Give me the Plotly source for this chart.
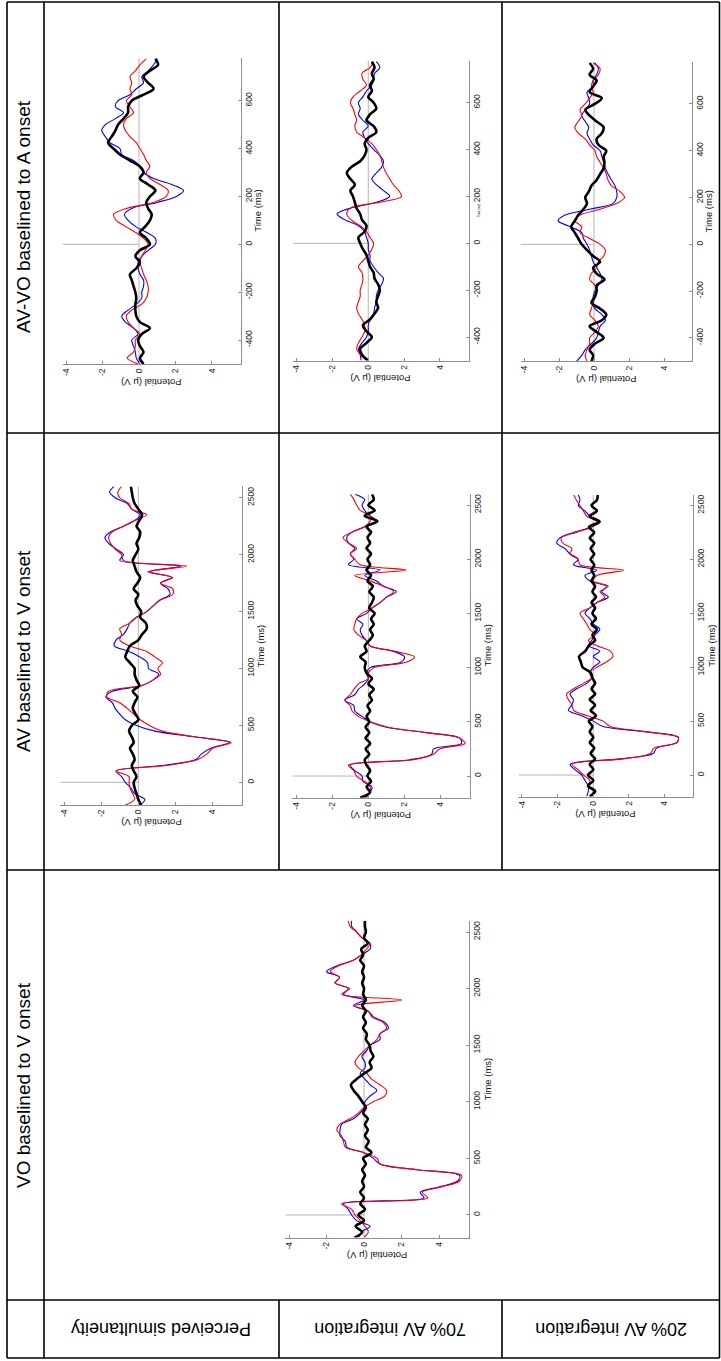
import plotly.graph_objects as go

W, H = 721, 1361
FONT = "Liberation Sans, Arial, Helvetica, sans-serif"

# ---------------- time grids (ms) ----------------
T_LONG = [-200, -150, -100, -50, 0, 50, 100, 150, 200, 250,
          300, 350, 400, 450, 500, 550, 600, 650, 700, 750,
          800, 850, 900, 950, 1000, 1050, 1100, 1150, 1200, 1250,
          1300, 1350, 1400, 1450, 1500, 1550, 1600, 1650, 1700, 1750,
          1800, 1850, 1900, 1950, 2000, 2050, 2100, 2150, 2200, 2250,
          2300, 2350, 2400, 2450, 2500, 2550, 2600]
T_SHORT = [-500, -475, -450, -425, -400, -375, -350, -325, -300, -275,
           -250, -225, -200, -175, -150, -125, -100, -75, -50, -25,
           0, 25, 50, 75, 100, 125, 150, 175, 200, 225,
           250, 275, 300, 325, 350, 375, 400, 425, 450, 475,
           500, 525, 550, 575, 600, 625, 650, 675, 700, 725,
           750, 775]

TICKS_LONG = [0, 500, 1000, 1500, 2000, 2500]
TICKS_SHORT = [-400, -200, 0, 200, 400, 600]
POT_TICKS = [-4, -2, 0, 2, 4]
POT_LABELS = ["-4", "-2", "0", "2", "4"]

# ---------------- AV-VO baselined to A onset ----------------
AVVO_P_RED = [-0.05, -0.65, -0.3, -0.2, -0.2, 0.05, -0.3, -0.6, -0.7, -0.4,
              0.15, 0.4, 0.5, 0.5, 0.4, 0.25, 0.15, 0.05, 0.15, 0.35,
              0.5, 0.25, -0.2, -0.75, -1.25, -1.4, -0.7, 0.8, 1.5, 1.6,
              1.15, 0.6, 0.4, 0.6, 0.4, 0.25, 0.05, -0.15, -0.5, -0.75,
              -0.85, -0.7, -0.3, -0.5, -0.7, -0.4, -0.5, -0.4, -0.5, -0.2,
              0.05, 0.4]
AVVO_P_BLUE = [0.05, -0.15, -0.2, -0.3, -0.4, -0.05, -0.3, -0.75, -0.95, -0.6,
               -0.15, 0.15, 0.15, 0.25, 0.25, 0.05, -0.05, -0.05, 0.15, 0.5,
               0.9, 0.9, 0.4, -0.2, -0.6, -0.8, -0.4, 1.0, 2.05, 2.45,
               1.8, 0.8, 0.25, 0.05, -0.3, -0.95, -1.05, -1.6, -1.85, -2.05,
               -1.85, -1.3, -0.85, -1.3, -1.15, -0.5, -0.15, 0.25, 0.15, 0.5,
               0.8, 1.0]
AVVO_P_BLACK = [0.25, 0.05, 0.25, 0.05, -0.05, 0.15, 0.6, 0.05, -0.15, -0.2,
                -0.2, -0.15, -0.2, -0.3, -0.4, -0.5, -0.15, 0.05, -0.2, 0.05,
                0.6, 0.4, 0.05, 0.35, 0.6, 0.7, 0.5, 0.4, 0.6, 0.9,
                0.5, 0.05, 0.25, 0.05, -0.5, -1.05, -1.4, -1.7, -1.5, -1.3,
                -1.15, -0.85, -0.6, -0.6, -0.4, 0.25, 0.8, 0.5, 0.25, 0.6,
                1.05, 0.9]

AVVO_70_RED = [-0.1, -0.45, -0.65, -0.55, -0.35, -0.2, -0.2, -0.35, -0.55, -0.65,
               -0.55, -0.45, -0.45, -0.35, -0.3, -0.35, -0.55, -0.3, 0.0, 0.2,
               0.3, 0.1, -0.1, -0.45, -0.95, -1.2, -1.0, 0.65, 1.85, 1.7,
               1.4, 1.2, 1.0, 0.85, 0.75, 0.65, 0.45, 0.2, -0.2, -0.65,
               -0.75, -0.65, -0.75, -0.85, -1.0, -0.85, -0.45, -0.1, -0.3, -0.35,
               0.1, 0.3]
AVVO_70_BLUE = [-0.4, -0.45, -0.55, -0.35, -0.1, 0.0, 0.0, 0.1, 0.3, 0.35,
                0.45, 0.45, 0.55, 0.75, 0.85, 0.55, 0.3, 0.1, 0.1, 0.0,
                0.0, -0.1, -0.2, -0.55, -1.3, -1.75, -1.0, 0.45, 1.2, 0.85,
                0.45, 0.2, 0.45, 0.75, 0.85, 0.65, 0.3, 0.0, -0.2, -0.3,
                0.0, -0.3, -0.55, -0.45, -0.55, -0.3, -0.1, 0.2, 0.3, 0.35,
                0.65, 0.45]
AVVO_70_BLACK = [0.0, -0.35, -0.45, -0.1, 0.2, -0.1, -0.3, 0.1, 0.35, 0.55,
                 0.45, 0.55, 0.65, 0.55, 0.35, 0.3, 0.1, 0.0, -0.1, -0.3,
                 -0.45, -0.55, -0.2, -0.1, -0.35, -0.45, -0.65, -0.75, -0.85, -1.0,
                 -0.75, -1.0, -1.2, -0.95, -0.45, -0.2, -0.1, -0.2, 0.0, 0.45,
                 0.3, -0.1, 0.1, 0.45, 0.3, 0.0, 0.2, 0.1, 0.3, 0.2,
                 0.35, 0.2]

AVVO_20_RED = [-0.4, -0.5, -0.4, -0.25, -0.25, 0.05, 0.25, 0.05, -0.25, -0.15,
               -0.05, 0.05, 0.15, 0.05, -0.25, -0.15, 0.15, 0.25, 0.55, 0.65,
               0.35, -0.25, -0.8, -0.7, -1.1, -0.8, 0.35, 1.3, 1.75, 1.5,
               1.0, 0.8, 0.7, 0.55, 0.35, 0.15, 0.05, -0.25, -0.5, -0.9,
               -1.1, -0.9, -0.7, -0.8, -0.5, -0.25, -0.05, -0.15, -0.05, 0.25,
               0.35, -0.05]
AVVO_20_BLUE = [-1.0, -0.7, -0.5, -0.15, 0.15, 0.25, 0.35, 0.65, 0.45, 0.05,
                -0.05, -0.05, 0.05, 0.25, 0.45, 0.35, 0.15, -0.05, -0.15, -0.25,
                -0.4, -0.6, -0.7, -1.35, -2.05, -1.65, -0.25, 1.1, 1.3, 1.3,
                1.2, 1.0, 0.8, 0.65, 0.55, 0.45, 0.35, -0.05, -0.25, -0.4,
                -0.3, -0.5, -0.7, -0.5, -0.25, -0.3, -0.4, -0.05, -0.05, 0.15,
                0.25, 0.05]
AVVO_20_BLACK = [-0.15, -0.05, -0.25, 0.05, 0.55, 0.15, -0.25, 0.45, 0.7, 0.35,
                 -0.15, 0.05, 0.15, 0.15, 0.6, 0.15, -0.05, 0.35, -0.05, -0.4,
                 -0.7, -0.9, -1.1, -1.3, -1.1, -0.9, -0.6, -0.4, -0.5, -0.3,
                 -0.15, 0.15, 0.35, 0.55, 0.6, 0.55, 0.7, 0.25, 0.15, 0.45,
                 0.55, 0.15, -0.25, -0.5, 0.05, 0.45, -0.25, -0.05, 0.15, -0.25,
                 -0.05, -0.25]

# ---------------- AV baselined to V onset ----------------
AV_P_RED = [-0.7, -0.2, -0.3, -0.45, -0.5, -0.5, -1.2, 1.6, 3.2, 3.7,
            4.0, 5.0, 3.0, 1.3, 0.6, 0.1, -0.25, -0.6, -1.0, -1.7,
            -1.6, 0.2, 0.8, 1.2, 1.05, 1.3, 0.9, 0.45, -0.5, -1.0,
            -0.9, -1.0, -0.45, -0.1, 0.45, 0.8, 1.15, 1.85, 1.85, 1.2,
            1.85, 0.5, 2.6, -0.8, -0.9, -1.25, -1.5, -1.6, -1.4, -0.8,
            -0.2, 0.45, -0.35, -0.5, -1.0, -1.1, -0.9]
AV_P_BLUE = [0.1, 0.35, -0.2, -0.4, -0.7, -0.9, -1.2, 1.4, 3.1, 3.4,
             3.9, 4.9, 3.0, 0.9, -0.1, -0.7, -1.0, -1.25, -1.4, -1.75,
             -1.4, 0.2, 0.8, 1.1, 0.55, 0.5, 0.1, -0.5, -1.3, -1.2,
             -0.8, -0.6, -0.45, -0.1, 0.45, 0.8, 1.15, 1.7, 1.6, 1.2,
             1.8, 0.6, 2.3, -1.0, -0.8, -1.2, -1.6, -1.8, -1.5, -0.8,
             -0.2, 0.1, -0.35, -0.6, -1.25, -1.55, -1.3]
AV_P_BLACK = [0.15, 0.0, -0.1, -0.2, -0.25, -0.1, -0.25, -0.35, -0.2, -0.3,
              -0.45, -0.25, -0.35, -0.5, -0.35, 0.0, -0.15, -0.3, -0.2, -0.05,
              -0.3, 0.05, -0.1, -0.2, -0.2, -0.45, -0.7, -0.6, -0.45, 0.0,
              0.2, 0.45, 0.4, 0.1, 0.15, -0.05, -0.15, 0.0, -0.25, -0.05,
              0.1, -0.1, -0.2, -0.3, -0.15, 0.0, -0.1, 0.05, 0.1, -0.1,
              0.05, 0.2, 0.0, -0.2, -0.3, -0.35, -0.4]

AV_70_RED = [-0.1, 0.1, 0.1, -0.2, -0.65, -0.8, -1.1, 2.5, 3.6, 3.95,
             5.35, 5.05, 3.2, 1.1, 0.1, -0.55, -0.9, -1.0, -1.3, -1.0,
             -0.8, -0.55, 0.0, 0.0, 0.3, 2.1, 2.55, 1.5, 0.1, -0.1,
             -0.55, -0.8, -0.75, -0.65, -0.35, 0.2, 0.65, 1.0, 1.4, 0.85,
             0.1, -0.75, 2.1, -0.45, -0.75, -1.0, -0.65, -1.1, -1.4, -0.9,
             -0.2, 0.1, 0.1, -0.45, -0.65, -0.8, -1.0]
AV_70_BLUE = [-0.2, 0.1, 0.2, -0.3, -0.35, -0.75, -1.0, 2.3, 3.5, 3.6,
              5.15, 5.05, 3.2, 1.0, 0.1, -0.35, -0.75, -0.8, -1.3, -0.75,
              -0.55, -0.2, 0.0, -0.1, 0.1, 1.8, 2.0, 1.4, 0.1, -0.1,
              -0.35, -0.45, -0.3, -0.65, -0.1, 0.2, 0.65, 1.0, 1.55, 0.85,
              0.45, -0.2, 0.65, -1.1, -0.8, -1.0, -0.75, -1.1, -1.2, -0.9,
              -0.2, 0.45, 0.1, -0.2, -0.35, -0.2, -0.75]
AV_70_BLACK = [-0.45, 0.1, -0.1, 0.15, -0.05, 0.1, -0.1, -0.2, 0.05, -0.15,
               0.1, -0.15, 0.05, -0.15, 0.05, -0.1, 0.1, -0.05, 0.2, 0.05,
               0.3, 0.0, 0.2, -0.1, -0.2, -0.15, -0.45, -0.1, -0.2, 0.05,
               0.25, 0.1, 0.3, 0.15, 0.35, 0.05, 0.2, 0.3, 0.05, 0.25,
               -0.05, 0.15, -0.1, 0.1, -0.05, 0.15, -0.1, 0.1, -0.05, 0.15,
               -0.1, 0.5, -0.2, 0.35, 0.0, 0.3, 0.2]

AV_20_RED = [-0.2, 0.0, -0.2, -0.2, -0.55, -0.85, -1.2, 1.7, 3.2, 3.4,
             4.7, 4.75, 3.0, 0.95, 0.55, -0.35, -1.1, -1.2, -1.4, -1.5,
             -1.1, -0.55, -0.1, -0.2, 0.2, 0.75, 1.1, 0.95, 0.2, -0.28,
             0.1, -0.2, -0.37, -0.56, -0.75, -0.2, 0.2, 0.65, 0.37, 0.84,
             0.0, 0.2, 1.7, -0.75, -0.85, -1.3, -1.2, -1.7, -1.8, -0.95,
             -0.1, 0.2, -0.37, -0.56, -0.75, -0.95, -1.1]
AV_20_BLUE = [-0.37, -0.28, -0.28, -0.47, -0.65, -1.03, -1.3, 1.5, 3.36, 3.55,
              4.67, 4.77, 3.0, 0.56, 0.0, -0.65, -1.4, -1.2, -1.12, -1.31,
              -0.93, -0.37, -0.09, -0.19, 0.0, 0.37, 0.0, 0.37, -0.28, -0.09,
              0.09, 0.37, 0.0, -0.19, -0.47, -0.2, 0.2, 0.84, 0.47, 0.75,
              -0.19, -0.47, 0.19, -1.12, -0.85, -1.3, -1.59, -2.05, -1.87, -1.12,
              -0.1, 0.37, -0.19, -0.47, -0.84, -0.75, -0.84]
AV_20_BLACK = [-0.2, 0.1, -0.3, 0.0, -0.3, 0.0, -0.2, 0.1, -0.15, 0.05,
               -0.2, 0.0, -0.2, -0.05, -0.25, 0.15, -0.15, 0.1, -0.2, 0.1,
               -0.1, 0.1, -0.05, -0.15, -0.6, -0.7, -0.8, -0.45, -0.25, 0.1,
               -0.05, 0.2, -0.1, 0.15, -0.05, 0.1, -0.1, 0.15, -0.05, 0.1,
               -0.1, 0.05, -0.1, 0.05, -0.15, 0.05, -0.15, 0.05, -0.2, 0.05,
               -0.25, 0.35, -0.2, 0.2, -0.1, 0.2, 0.25]

# ---------------- VO baselined to V onset ----------------
VO_RED = [0.0, 0.23, 0.05, -0.2, -0.48, -0.66, -1.2, 3.4, 3.1, 4.2,
          5.1, 5.2, 2.8, 0.85, 0.7, 0.0, -1.0, -1.1, -1.2, -1.45,
          -1.3, -0.75, -0.3, 0.0, 0.5, 1.1, 1.2, 0.85, 0.4, 0.15,
          -0.3, -0.48, -0.3, 0.0, 0.32, 0.68, 0.85, 1.2, 1.03, 0.41,
          0.23, -0.48, 2.0, -1.2, -0.75, -1.55, -1.3, -1.8, -1.37, -0.57,
          -0.12, 0.14, 0.32, -0.12, -0.39, -0.75, -0.84]
VO_BLUE = [-0.3, -0.12, 0.32, -0.39, -0.66, -0.84, -1.1, 3.2, 3.0, 4.05,
           5.0, 5.1, 2.8, 0.85, 0.5, 0.0, -0.92, -1.0, -1.28, -1.28,
           -1.2, -0.57, -0.21, 0.0, 0.05, 0.32, 0.68, 0.32, 0.05, -0.21,
           0.05, 0.05, -0.12, 0.14, 0.32, 0.85, 0.85, 1.3, 1.12, 0.5,
           0.23, -0.57, 0.0, -1.1, -0.84, -1.55, -1.3, -2.0, -1.46, -0.57,
           -0.12, 0.32, 0.32, -0.12, -0.39, -0.66, -0.66]
VO_BLACK = [-0.5, -0.1, -0.45, 0.0, -0.3, 0.05, -0.2, 0.0, -0.2, 0.0,
            -0.1, 0.05, -0.1, 0.1, -0.05, 0.4, 0.1, 0.25, 0.05, 0.2,
            0.05, 0.2, -0.05, 0.1, -0.1, -0.3, -0.55, -0.7, -0.4, 0.0,
            0.4, 0.3, 0.5, 0.35, 0.3, 0.1, 0.15, -0.05, 0.1, -0.05,
            0.1, -0.1, 0.1, -0.05, 0.0, -0.1, 0.0, -0.1, 0.0, -0.2,
            -0.05, -0.15, 0.2, 0.0, 0.1, 0.05, 0.05]

COLUMN_TITLES = ["AV-VO baselined to A onset", "AV baselined to V onset", "VO baselined to V onset"]
ROW_LABELS = ["Perceived simultaneity", "70% AV integration", "20% AV integration"]

POT_RANGE = [-4.2, 5.6]

# panel layout: pixel box (left, right, bottom, top), time range, ticks, Time label font size
PANELS = [
    dict(t=T_SHORT, red=AVVO_P_RED, blue=AVVO_P_BLUE, black=AVVO_P_BLACK,
         box=(62.6, 240.9, 364.0, 57.6), tr=(-500, 780), ticks=TICKS_SHORT, tfs=9.5, toff=17),
    dict(t=T_SHORT, red=AVVO_70_RED, blue=AVVO_70_BLUE, black=AVVO_70_BLACK,
         box=(293.0, 468.6, 360.5, 60.5), tr=(-500, 780), ticks=TICKS_SHORT, tfs=3, toff=10),
    dict(t=T_SHORT, red=AVVO_20_RED, blue=AVVO_20_BLUE, black=AVVO_20_BLACK,
         box=(520.5, 692.0, 361.3, 61.8), tr=(-500, 780), ticks=TICKS_SHORT, tfs=9.5, toff=17),
    dict(t=T_LONG, red=AV_P_RED, blue=AV_P_BLUE, black=AV_P_BLACK,
         box=(60.3, 242.4, 805.1, 486.4), tr=(-200, 2600), ticks=TICKS_LONG, tfs=9.5, toff=18),
    dict(t=T_LONG, red=AV_70_RED, blue=AV_70_BLUE, black=AV_70_BLACK,
         box=(292.4, 469.6, 797.7, 494.2), tr=(-200, 2600), ticks=TICKS_LONG, tfs=9.5, toff=18),
    dict(t=T_LONG, red=AV_20_RED, blue=AV_20_BLUE, black=AV_20_BLACK,
         box=(518.4, 693.2, 796.6, 494.7), tr=(-200, 2600), ticks=TICKS_LONG, tfs=9.5, toff=18),
    dict(t=T_LONG, red=VO_RED, blue=VO_BLUE, black=VO_BLACK,
         box=(285.3, 469.0, 1237.6, 920.7), tr=(-200, 2600), ticks=TICKS_LONG, tfs=9.5, toff=18),
]

AXIS_GRAY = "#8f8f8f"
REF_GRAY = "#b5b5b5"
TICK_COLOR = "#262626"

fig = go.Figure()
layout_axes = {}
shapes = []
annotations = []


def px_x(v):
    return v / W


def px_y(v):
    return 1 - v / H


for i, p in enumerate(PANELS, start=1):
    sfx = "" if i == 1 else str(i)
    xa, ya = "x" + sfx, "y" + sfx
    l, r, b, t = p["box"]
    for series, color, width in [(p["blue"], "#0000ff", 1.1), (p["red"], "#ff0000", 1.1),
                                 (p["black"], "#000000", 2.6)]:
        fig.add_trace(go.Scatter(x=series, y=p["t"], mode="lines", xaxis=xa, yaxis=ya,
                                 line=dict(color=color, width=width, shape="spline", smoothing=0.9),
                                 hoverinfo="skip", showlegend=False))
    layout_axes["xaxis" + sfx] = dict(
        domain=[px_x(l), px_x(r)], range=POT_RANGE, anchor=ya, showgrid=False, zeroline=False,
        showline=True, linecolor=AXIS_GRAY, linewidth=1, ticks="inside", ticklen=3,
        tickcolor=AXIS_GRAY, tickvals=POT_TICKS, ticktext=POT_LABELS, tickangle=-90,
        tickfont=dict(family=FONT, size=8.5, color=TICK_COLOR), automargin=False, fixedrange=True)
    layout_axes["yaxis" + sfx] = dict(
        domain=[px_y(b), px_y(t)], range=list(p["tr"]), anchor=xa, side="right", showgrid=False,
        zeroline=False, showline=True, linecolor=AXIS_GRAY, linewidth=1, ticks="inside", ticklen=3,
        tickcolor=AXIS_GRAY, tickvals=p["ticks"], ticktext=[str(v) for v in p["ticks"]],
        tickangle=-90, tickfont=dict(family=FONT, size=8.5, color=TICK_COLOR), automargin=False,
        fixedrange=True)
    # reference lines: potential = 0 and time = 0
    shapes.append(dict(type="line", xref=xa, yref=ya, x0=0, x1=0, y0=p["tr"][0], y1=p["tr"][1],
                       line=dict(color=REF_GRAY, width=1), layer="below"))
    shapes.append(dict(type="line", xref=xa, yref=ya, x0=POT_RANGE[0], x1=0, y0=0, y1=0,
                       line=dict(color=REF_GRAY, width=1), layer="below"))
    # axis titles
    annotations.append(dict(text="Time (ms)", xref="paper", yref="paper",
                            x=px_x(r + p["toff"]), y=px_y((b + t) / 2), textangle=-90,
                            showarrow=False, xanchor="center", yanchor="middle",
                            font=dict(family=FONT, size=p["tfs"], color="#111")))
    x_mid = l + (0.7 - POT_RANGE[0]) / (POT_RANGE[1] - POT_RANGE[0]) * (r - l)
    annotations.append(dict(text="Potential (\u03bc V)", xref="paper", yref="paper",
                            x=px_x(x_mid), y=px_y(b + 18), textangle=180, showarrow=False,
                            xanchor="center", yanchor="middle",
                            font=dict(family=FONT, size=9.5, color="#111")))

# ---------------- table grid ----------------
LW = 1.6
L_, R_, T_, B_ = 7, 719.5, 2, 1358


def hline(y, x0=L_, x1=R_):
    shapes.append(dict(type="line", xref="paper", yref="paper", x0=px_x(x0), x1=px_x(x1),
                       y0=px_y(y), y1=px_y(y), line=dict(color="black", width=LW)))


def vline(x, y0=T_, y1=B_):
    shapes.append(dict(type="line", xref="paper", yref="paper", x0=px_x(x), x1=px_x(x),
                       y0=px_y(y0), y1=px_y(y1), line=dict(color="black", width=LW)))


hline(T_); hline(B_); vline(L_); vline(R_)
vline(44)
for xv in (279, 502):
    vline(xv, T_, 870)
    vline(xv, 1300, B_)
for yv in (433, 870, 1300):
    hline(yv)

# column (rotated) titles
for title, yc in zip(COLUMN_TITLES, [217, 651, 1085]):
    annotations.append(dict(text=title, xref="paper", yref="paper", x=px_x(23), y=px_y(yc),
                            textangle=-90, showarrow=False, xanchor="center", yanchor="middle",
                            font=dict(family=FONT, size=19, color="black")))
# row labels (upside down)
for lab, xc in zip(ROW_LABELS, [161.5, 390.5, 611]):
    annotations.append(dict(text=lab, xref="paper", yref="paper", x=px_x(xc), y=px_y(1329),
                            textangle=180, showarrow=False, xanchor="center", yanchor="middle",
                            font=dict(family=FONT, size=18, color="black")))

fig.update_layout(
    template="none", width=W, height=H, margin=dict(l=0, r=0, t=0, b=0, pad=0),
    paper_bgcolor="white", plot_bgcolor="rgba(0,0,0,0)", showlegend=False,
    shapes=shapes, annotations=annotations, font=dict(family=FONT), **layout_axes)

fig.write_html("out.html", config={"displayModeBar": False, "staticPlot": True},
               post_script="document.body.style.margin='0px';document.body.style.padding='0px';")
